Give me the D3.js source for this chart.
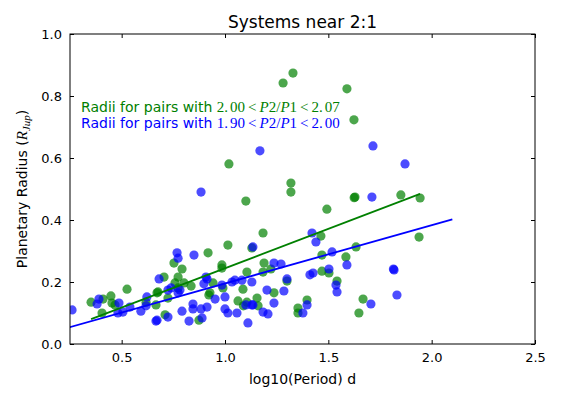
<!DOCTYPE html>
<html><head><meta charset="utf-8">
<script src="https://cdn.jsdelivr.net/npm/d3@7"></script>
<style>body{margin:0;background:#fff}svg{display:block}text{font-family:"DejaVu Sans",sans-serif;fill:#000}</style>
</head><body><svg id="c" width="567" height="394"></svg>
<script>
// Green: 2.00 < P2/P1 < 2.07
const greenLogP = [1.281,1.329,1.590,1.624,1.019,1.319,1.319,1.629,1.625,1.851,1.944,1.493,1.101,1.184,1.464,1.014,1.130,1.634,0.918,1.469,1.585,0.985,0.985,1.189,1.222,1.184,1.106,1.469,1.503,1.300,1.542,0.942,0.990,1.087,0.922,1.237,1.155,1.063,1.106,1.089,1.160,1.397,1.353,1.353,1.648,1.668,1.939,0.874,0.753,0.792,0.705,0.773,0.758,0.773,0.836,0.802,0.676,0.927,0.724,0.710,0.352,0.410,0.448,0.453,0.468,0.526,0.405,0.618,0.666,0.671];
const greenRadius = [0.842,0.874,0.823,0.723,0.581,0.519,0.490,0.474,0.472,0.481,0.471,0.435,0.461,0.358,0.348,0.319,0.310,0.313,0.294,0.287,0.281,0.255,0.245,0.261,0.242,0.232,0.232,0.235,0.229,0.203,0.203,0.197,0.181,0.177,0.158,0.165,0.148,0.139,0.135,0.123,0.123,0.142,0.116,0.100,0.100,0.145,0.345,0.077,0.261,0.242,0.216,0.216,0.197,0.181,0.187,0.197,0.168,0.165,0.148,0.094,0.135,0.145,0.155,0.132,0.126,0.177,0.100,0.135,0.126,0.165];
// Blue: 1.90 < P2/P1 < 2.00
const blueLogP = [0.884,1.169,1.716,1.871,1.711,1.818,1.815,1.832,1.706,1.590,1.135,1.421,1.440,1.518,1.237,1.271,1.130,1.300,1.503,1.411,1.426,1.537,1.542,1.203,1.285,1.130,1.237,1.397,1.377,1.184,1.208,1.111,0.913,0.898,1.048,1.034,1.082,0.985,1.000,0.952,1.101,0.913,1.000,1.014,1.058,0.768,0.773,0.850,0.681,0.908,0.739,0.724,0.773,0.782,0.845,0.845,0.792,0.884,0.889,0.826,0.724,0.671,0.260,0.390,0.381,0.487,0.482,0.506,0.540,0.593,0.622,0.618,0.666,1.135];
const blueRadius = [0.490,0.623,0.639,0.581,0.474,0.239,0.242,0.158,0.129,0.255,0.313,0.358,0.329,0.297,0.261,0.258,0.200,0.210,0.242,0.223,0.229,0.190,0.168,0.174,0.171,0.126,0.132,0.126,0.100,0.103,0.097,0.068,0.210,0.194,0.206,0.200,0.206,0.190,0.152,0.145,0.126,0.119,0.113,0.100,0.100,0.294,0.277,0.287,0.210,0.216,0.181,0.174,0.165,0.174,0.129,0.113,0.106,0.113,0.084,0.074,0.087,0.077,0.110,0.145,0.129,0.132,0.100,0.103,0.119,0.106,0.152,0.123,0.074,0.126];
// Fit lines (end points)
const greenFitX = [0.352, 1.944];
const greenFitY = [0.080, 0.484];
const blueFitX = [0.20, 2.10];
const blueFitY = [0.045, 0.402];
const xTicks = [0.5, 1.0, 1.5, 2.0, 2.5];
const yTicks = [0.0, 0.2, 0.4, 0.6, 0.8, 1.0];

const L = 70, R = 535, T = 34, B = 344;
const svg = d3.select("#c");
const x = d3.scaleLinear().domain([0.25, 2.5]).range([L, R]);
const y = d3.scaleLinear().domain([0, 1]).range([B, T]);

svg.append("defs").append("clipPath").attr("id","clip")
  .append("rect").attr("x",L).attr("y",T).attr("width",R-L).attr("height",B-T);

const plot = svg.append("g").attr("clip-path","url(#clip)");
const green = greenLogP.map((v,i)=>[v,greenRadius[i]]);
const blue = blueLogP.map((v,i)=>[v,blueRadius[i]]);
plot.selectAll("circle.g").data(green).join("circle").attr("class","g")
  .attr("cx",d=>x(d[0])).attr("cy",d=>y(d[1])).attr("r",4.6)
  .attr("fill","#008000").attr("fill-opacity",0.7);
plot.selectAll("circle.b").data(blue).join("circle").attr("class","b")
  .attr("cx",d=>x(d[0])).attr("cy",d=>y(d[1])).attr("r",4.6)
  .attr("fill","#0000ff").attr("fill-opacity",0.7);
const line = d3.line().x(d=>x(d[0])).y(d=>y(d[1]));
plot.append("path").datum(greenFitX.map((v,i)=>[v,greenFitY[i]])).attr("d",line)
  .attr("stroke","#008000").attr("stroke-width",1.8).attr("fill","none");
plot.append("path").datum(blueFitX.map((v,i)=>[v,blueFitY[i]])).attr("d",line)
  .attr("stroke","#0000ff").attr("stroke-width",1.8).attr("fill","none");

// axes with inward ticks on all sides
const tl = 4;
const ax = svg.append("g");
ax.append("g").attr("transform",`translate(0,${B})`)
  .call(d3.axisBottom(x).tickValues(xTicks).tickFormat(d3.format(".1f")).tickSizeInner(-tl).tickSizeOuter(0).tickPadding(9));
ax.append("g").attr("transform",`translate(0,${T})`)
  .call(d3.axisTop(x).tickValues(xTicks).tickFormat("").tickSizeInner(-tl).tickSizeOuter(0));
ax.append("g").attr("transform",`translate(${L},0)`)
  .call(d3.axisLeft(y).tickValues(yTicks).tickFormat(d3.format(".1f")).tickSizeInner(-tl).tickSizeOuter(0).tickPadding(8));
ax.append("g").attr("transform",`translate(${R},0)`)
  .call(d3.axisRight(y).tickValues(yTicks).tickFormat("").tickSizeInner(-tl).tickSizeOuter(0));
ax.selectAll(".domain").remove();
ax.selectAll(".tick line").attr("stroke","#000");
ax.selectAll(".tick text").attr("font-size",13).attr("font-family","DejaVu Sans").attr("fill","#000");
svg.append("rect").attr("x",L).attr("y",T).attr("width",R-L).attr("height",B-T)
  .attr("fill","none").attr("stroke","#000").attr("stroke-width",1);

// title and labels
svg.append("text").attr("x",(L+R)/2).attr("y",28).attr("text-anchor","middle")
  .attr("font-size",17).text("Systems near 2:1");
svg.append("text").attr("x",(L+R)/2).attr("y",384).attr("text-anchor","middle")
  .attr("font-size",14).text("log10(Period) d");
const yl = svg.append("text").attr("transform",`translate(27,${(T+B)/2}) rotate(-90)`)
  .attr("text-anchor","middle").attr("font-size",14);
yl.append("tspan").text("Planetary Radius (");
yl.append("tspan").attr("font-family","Liberation Serif").attr("font-style","italic").attr("font-size",15).text("R");
yl.append("tspan").attr("font-family","Liberation Serif").attr("font-style","italic").attr("font-size",11).attr("dy",3).text("Jup");
yl.append("tspan").attr("dy",-3).text(")");

function legend(yy, color, lo, hi){
  const t = svg.append("text").attr("x",81).attr("y",yy).attr("font-size",14).attr("fill",color).style("fill",color);
  t.append("tspan").text("Radii for pairs with ");
  const s = (txt, it, dx)=> t.append("tspan").attr("font-family","Liberation Serif").attr("font-size",15)
      .attr("font-style", it ? "italic" : "normal").attr("dx", dx || 0).text(txt);
  s(lo[0], false); s(lo[1], false, 2); s("<", false, 3); s("P", true, 3); s("2/", false); s("P", true); s("1", false);
  s("<", false, 3); s(hi[0], false, 3); s(hi[1], false, 2);
}
legend(112, "#008000", ["2.","00"], ["2.","07"]);
legend(128, "#0000ff", ["1.","90"], ["2.","00"]);
</script></body></html>
